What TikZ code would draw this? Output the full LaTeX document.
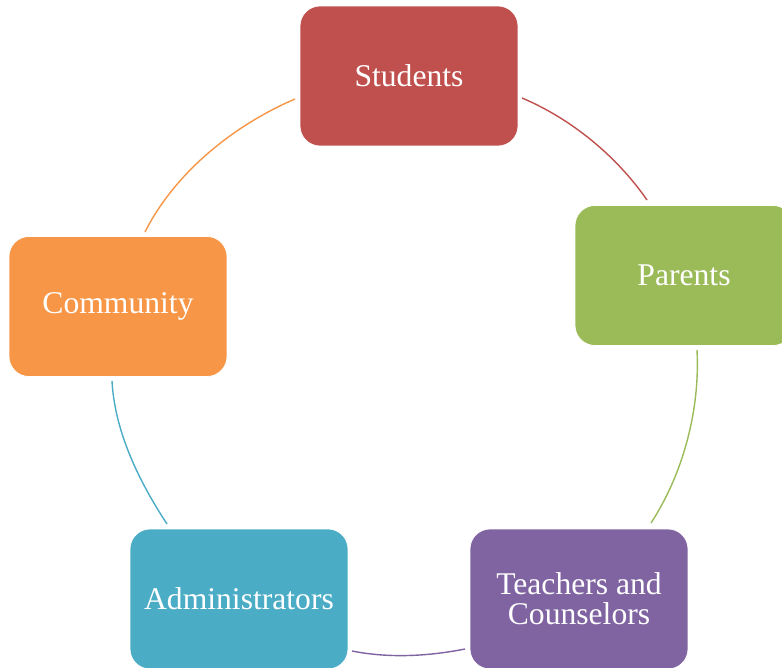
\documentclass[tikz,border=0pt]{standalone}
\usepackage{fontspec}
\setmainfont{Liberation Serif}
\definecolor{studred}{HTML}{C0504D}
\definecolor{pargreen}{HTML}{9BBB59}
\definecolor{teachpurple}{HTML}{8064A2}
\definecolor{admblue}{HTML}{4BACC6}
\definecolor{comorange}{HTML}{F79646}
\tikzset{
  groupbox/.style={rounded corners=0.4cm, draw=white, line width=0.4pt,
    minimum width=4.36cm, minimum height=2.8cm, text=white, align=center,
    font=\fontsize{18}{17}\selectfont},
  cyclearc/.style={line width=0.8pt, looseness=0.85}
}
\begin{document}
\begin{tikzpicture}[x=0.02cm, y=0.02cm]
\useasboundingbox (0,0) rectangle (782,667);
% boxes
\node [groupbox, fill=studred] (students) at (409,591) {Students};
\node [groupbox, fill=pargreen] (parents) at (684,391.5) {Parents};
\node [groupbox, fill=teachpurple] (teachers) at (579,68) {Teachers and\\Counselors};
\node [groupbox, fill=admblue] (admins) at (239,68) {Administrators};
\node [groupbox, fill=comorange] (community) at (118,360.5) {Community};
% arc ends
\coordinate (a1s) at (522,569); \coordinate (a1e) at (647,467);
\coordinate (a2s) at (697,317); \coordinate (a2e) at (651,144);
\coordinate (a3s) at (465,18);  \coordinate (a3e) at (352,16);
\coordinate (a4s) at (167,143); \coordinate (a4e) at (112,286);
\coordinate (a5s) at (145,435); \coordinate (a5e) at (295,568);
% arcs
\draw [cyclearc, studred] (a1s) to [out=-22.9, in=124.7] (a1e);
\draw [cyclearc, pargreen] (a2s) to [out=-87, in=56.9] (a2e);
\draw [cyclearc, teachpurple] (a3s) to [out=-168.8, in=-11.3] (a3e);
\draw [cyclearc, admblue] (a4s) to [out=123.3, in=-86.9] (a4e);
\draw [cyclearc, comorange] (a5s) to [out=63.3, in=203.2] (a5e);
\end{tikzpicture}
\end{document}
